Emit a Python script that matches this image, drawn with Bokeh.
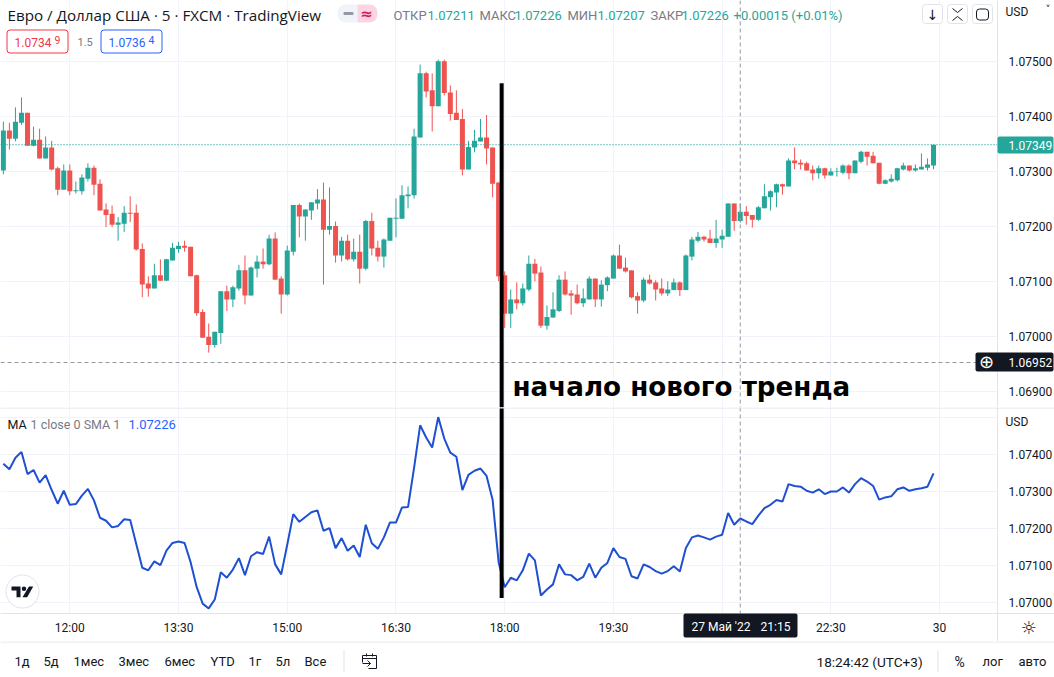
from bokeh.plotting import figure
from bokeh.layouts import column
from bokeh.models import Range1d, FixedTicker, Span, Label, BoxAnnotation, ColumnDataSource
from bokeh.embed import file_html
from bokeh.resources import INLINE

opens = [1.07302,1.07375,1.07360,1.07389,1.07407,1.07347,1.07358,1.07324,1.07344,1.07306,
1.07267,1.07302,1.07264,1.07264,1.07287,1.07307,1.07278,1.07231,1.07223,1.07203,
1.07205,1.07225,1.07225,1.07159,1.07096,1.07087,1.07111,1.07101,1.07138,1.07159,
1.07165,1.07163,1.07111,1.07044,1.06999,1.06984,1.07006,1.07082,1.07067,1.07087,
1.07120,1.07074,1.07123,1.07136,1.07131,1.07178,1.07105,1.07076,1.07154,1.07239,
1.07218,1.07229,1.07242,1.07249,1.07194,1.07201,1.07147,1.07174,1.07140,1.07154,
1.07123,1.07210,1.07161,1.07145,1.07174,1.07214,1.07214,1.07255,1.07257,1.07362,
1.07479,1.07448,1.07419,1.07501,1.07444,1.07407,1.07396,1.07304,1.07344,1.07355,
1.07362,1.07344,1.07280,1.07111,1.07041,1.07067,1.07060,1.07085,1.07132,1.07116,
1.07019,1.07034,1.07046,1.07103,1.07078,1.07076,1.07060,1.07067,1.07105,1.07067,
1.07093,1.07105,1.07147,1.07125,1.07120,1.07073,1.07065,1.07103,1.07098,1.07087,
1.07078,1.07084,1.07098,1.07084,1.07145,1.07174,1.07181,1.07178,1.07170,1.07176,
1.07181,1.07242,1.07210,1.07227,1.07221,1.07212,1.07233,1.07253,1.07262,1.07277,
1.07273,1.07320,1.07316,1.07315,1.07304,1.07297,1.07306,1.07293,1.07299,1.07298,
1.07311,1.07297,1.07318,1.07336,1.07329,1.07316,1.07278,1.07282,1.07284,1.07304,
1.07311,1.07302,1.07304,1.07307,1.07311]

highs = [1.07391,1.07389,1.07417,1.07435,1.07407,1.07382,1.07378,1.07364,1.07356,1.07309,
1.07313,1.07313,1.07282,1.07295,1.07315,1.07311,1.07286,1.07242,1.07238,1.07217,
1.07237,1.07255,1.07240,1.07169,1.07109,1.07132,1.07140,1.07141,1.07170,1.07172,
1.07174,1.07163,1.07112,1.07049,1.07023,1.07008,1.07082,1.07092,1.07092,1.07130,
1.07147,1.07127,1.07147,1.07160,1.07185,1.07189,1.07109,1.07165,1.07239,1.07242,
1.07231,1.07244,1.07268,1.07280,1.07271,1.07209,1.07181,1.07185,1.07178,1.07185,
1.07212,1.07225,1.07174,1.07178,1.07216,1.07251,1.07275,1.07273,1.07378,1.07495,
1.07482,1.07479,1.07504,1.07504,1.07457,1.07448,1.07414,1.07356,1.07376,1.07396,
1.07403,1.07344,1.07280,1.07118,1.07085,1.07098,1.07096,1.07147,1.07141,1.07127,
1.07056,1.07080,1.07111,1.07118,1.07084,1.07094,1.07087,1.07109,1.07105,1.07102,
1.07109,1.07149,1.07167,1.07143,1.07120,1.07080,1.07107,1.07112,1.07102,1.07105,
1.07100,1.07105,1.07100,1.07149,1.07181,1.07190,1.07183,1.07194,1.07212,1.07194,
1.07242,1.07242,1.07242,1.07237,1.07221,1.07237,1.07277,1.07266,1.07278,1.07278,
1.07324,1.07344,1.07322,1.07318,1.07311,1.07311,1.07307,1.07306,1.07307,1.07313,
1.07313,1.07320,1.07338,1.07336,1.07336,1.07316,1.07286,1.07295,1.07307,1.07316,
1.07311,1.07313,1.07333,1.07324,1.07349]

lows = [1.07295,1.07340,1.07355,1.07385,1.07347,1.07346,1.07324,1.07324,1.07302,1.07257,
1.07267,1.07257,1.07260,1.07258,1.07282,1.07257,1.07229,1.07199,1.07199,1.07174,
1.07190,1.07208,1.07156,1.07071,1.07072,1.07087,1.07101,1.07101,1.07138,1.07152,
1.07154,1.07109,1.07037,1.06997,1.06970,1.06979,1.06986,1.07046,1.07053,1.07083,
1.07058,1.07074,1.07107,1.07123,1.07129,1.07103,1.07041,1.07074,1.07147,1.07180,
1.07174,1.07212,1.07231,1.07094,1.07185,1.07134,1.07136,1.07138,1.07136,1.07096,
1.07120,1.07147,1.07136,1.07125,1.07174,1.07180,1.07214,1.07233,1.07251,1.07362,
1.07435,1.07373,1.07419,1.07439,1.07393,1.07394,1.07293,1.07304,1.07335,1.07355,
1.07313,1.07253,1.07100,1.07015,1.07015,1.07049,1.07056,1.07082,1.07100,1.07015,
1.07012,1.07034,1.07044,1.07074,1.07039,1.07058,1.07053,1.07067,1.07053,1.07054,
1.07082,1.07105,1.07123,1.07116,1.07069,1.07041,1.07062,1.07094,1.07065,1.07074,
1.07073,1.07084,1.07073,1.07084,1.07138,1.07171,1.07172,1.07170,1.07161,1.07161,
1.07181,1.07192,1.07207,1.07203,1.07198,1.07210,1.07233,1.07229,1.07235,1.07258,
1.07273,1.07304,1.07304,1.07302,1.07284,1.07287,1.07287,1.07293,1.07291,1.07295,
1.07286,1.07297,1.07315,1.07311,1.07315,1.07277,1.07277,1.07280,1.07282,1.07302,
1.07300,1.07300,1.07304,1.07302,1.07304]

closes = [1.07375,1.07360,1.07391,1.07407,1.07347,1.07358,1.07324,1.07344,1.07304,1.07267,
1.07302,1.07264,1.07266,1.07289,1.07307,1.07276,1.07229,1.07221,1.07203,1.07207,
1.07225,1.07223,1.07158,1.07094,1.07087,1.07111,1.07101,1.07140,1.07161,1.07165,
1.07161,1.07109,1.07042,1.06997,1.06984,1.07008,1.07082,1.07067,1.07089,1.07120,
1.07074,1.07125,1.07136,1.07131,1.07178,1.07103,1.07076,1.07156,1.07239,1.07218,
1.07231,1.07244,1.07249,1.07194,1.07201,1.07147,1.07174,1.07140,1.07154,1.07123,
1.07210,1.07160,1.07145,1.07176,1.07216,1.07216,1.07257,1.07258,1.07364,1.07479,
1.07446,1.07419,1.07501,1.07443,1.07405,1.07394,1.07304,1.07345,1.07356,1.07362,
1.07342,1.07278,1.07109,1.07041,1.07067,1.07060,1.07087,1.07132,1.07114,1.07019,
1.07035,1.07049,1.07103,1.07076,1.07074,1.07060,1.07069,1.07105,1.07067,1.07094,
1.07107,1.07147,1.07123,1.07118,1.07071,1.07065,1.07103,1.07096,1.07085,1.07078,
1.07085,1.07098,1.07084,1.07147,1.07176,1.07181,1.07176,1.07170,1.07178,1.07183,
1.07242,1.07210,1.07227,1.07219,1.07212,1.07235,1.07255,1.07264,1.07277,1.07273,
1.07320,1.07315,1.07313,1.07302,1.07297,1.07306,1.07293,1.07300,1.07300,1.07311,
1.07297,1.07320,1.07336,1.07327,1.07315,1.07278,1.07284,1.07287,1.07306,1.07311,
1.07302,1.07306,1.07309,1.07313,1.07349]

first_bar = -11
price_ticks = [1.075, 1.074, 1.073, 1.072, 1.071, 1.07, 1.069]
ma_ticks = [1.074, 1.073, 1.072, 1.071, 1.07]
ma_grid = [1.075, 1.074, 1.073, 1.072, 1.071, 1.07]
time_grid = [0, 18, 36, 54, 72, 90, 108, 126, 144]
time_ticks = [0, 18, 36, 54, 72, 90, 126, 144]
time_labels = ["12:00", "13:30", "15:00", "16:30", "18:00", "19:30", "22:30", "30"]
range_buttons = ["1д", "5д", "1мес", "3мес", "6мес", "YTD", "1г", "5л", "Все"]
last_price = 1.07349
cursor_price = 1.06952
cursor_bar = 111
trend_bar = 71.5
trend_top = 1.07461
trend_bottom = 1.07012

UP, DOWN = "#26a69a", "#ef5350"
GRID, EDGE, INK, GREY = "#f0f3fa", "#e0e3eb", "#131722", "#787b86"
FONT = "Roboto"

# page pixel -> data helpers for the chart furniture
fx = lambda px: (px - 69.3) / 6.04
fy1 = lambda py: 1.075 - (py - 61.33) / 54870
fy2 = lambda py: 1.074 - (py - 454.0) / 37000
fy3 = lambda py: py

x_range = Range1d(fx(0), fx(1054))


def base(h, y_range):
    p = figure(width=1054, height=h, x_range=x_range, y_range=y_range,
               y_axis_location="right", output_backend="svg", toolbar_location=None,
               min_border=0,
               background_fill_color="white", border_fill_color="white", outline_line_color=None)
    p.xgrid.ticker = FixedTicker(ticks=time_grid)
    p.xgrid.grid_line_color = GRID
    p.ygrid.grid_line_color = GRID
    ax = p.yaxis[0]
    ax.fixed_location = fx(997)
    ax.axis_line_color = EDGE
    ax.major_tick_line_color = None
    ax.minor_tick_line_color = None
    ax.major_tick_out = 0
    ax.major_tick_in = 0
    ax.minor_tick_out = 0
    ax.major_label_text_font = FONT
    ax.major_label_text_font_size = "12px"
    ax.major_label_text_color = INK
    ax.major_label_standoff = 11
    return p


def put(p, fy, px, py, text, color=INK, size=13, align="left", style="normal", font=FONT):
    p.add_layout(Label(x=fx(px), y=fy(py), text=text, text_color=color, text_font=font,
                       text_font_size=f"{size}px", text_align=align, text_baseline="middle",
                       text_font_style=style))


def box(p, fy, l, r, t, b, fill=None, line=None, radius=0, level="annotation"):
    p.add_layout(BoxAnnotation(left=fx(l), right=fx(r), top=fy(t), bottom=fy(b),
                               fill_color=fill, fill_alpha=1 if fill else 0,
                               line_color=line, line_alpha=1 if line else 0, line_width=1,
                               border_radius=radius, level=level))


# ---------- candle pane ----------
p1 = base(407, Range1d(fy1(407), fy1(0)))
p1.xaxis.visible = False
p1.ygrid.ticker = FixedTicker(ticks=price_ticks)
p1.yaxis[0].ticker = FixedTicker(ticks=price_ticks)
p1.yaxis[0].major_label_overrides = {t: f"{t:.5f}" for t in price_ticks}
box(p1, fy1, 997, 1054, 0, 407, fill="white", level="glyph")

bars = [first_bar + i for i in range(len(closes))]
src = ColumnDataSource(dict(
    x=bars, o=opens, h=highs, l=lows, c=closes,
    color=[UP if c >= o else DOWN for o, c in zip(opens, closes)],
    top=[max(o, c) for o, c in zip(opens, closes)],
    bot=[min(o, c) for o, c in zip(opens, closes)]))
p1.segment("x", "h", "x", "l", color="color", line_width=1, source=src)
p1.vbar("x", 0.83, "top", "bot", fill_color="color", line_color=None, source=src)

p1.segment([fx(0)], [last_price], [fx(997)], [last_price], line_color=UP, line_dash="1 2", line_width=1.3)
p1.segment([fx(0)], [cursor_price], [fx(997)], [cursor_price], line_color="#9598a1", line_dash="4 3", line_width=1)
p1.add_layout(Span(location=cursor_bar, dimension="height", line_color="#9598a1", line_dash="4 3", line_width=1))
p1.segment([trend_bar], [trend_top], [trend_bar], [fy1(407)], color="black", line_width=4)

put(p1, fy1, 512, 386, "начало нового тренда", "black", 26.2, style="bold", font="DejaVu Sans")

# header
put(p1, fy1, 7, 14, "Евро / Доллар США · 5 · FXCM · TradingView", INK, 15.2, font="Open Sans")
box(p1, fy1, 337, 357, 4, 22, fill=GRID, radius=(8, 0, 0, 8))
box(p1, fy1, 357, 377, 4, 22, fill="#fbd5e2", radius=(0, 8, 8, 0))
box(p1, fy1, 343, 353, 11.5, 14.5, fill="#9598a1", radius=1)
put(p1, fy1, 366, 13, "≈", "#d81b60", 15, "center", "bold", "DejaVu Sans")
for px, txt, col in [(393, "ОТКР", GREY), (427, "1.07211", UP), (479, "МАКС", GREY), (514, "1.07226", UP),
                     (567, "МИН", GREY), (597, "1.07207", UP), (650, "ЗАКР", GREY), (681, "1.07226", UP),
                     (733, "+0.00015 (+0.01%)", UP)]:
    put(p1, fy1, px, 15, txt, col, 13)

box(p1, fy1, 6.5, 67.5, 29.5, 52.5, line="#f23645", radius=3)
put(p1, fy1, 14, 42, "1.0734", "#f23645", 12)
put(p1, fy1, 54, 39.5, "9", "#f23645", 10.5)
put(p1, fy1, 77, 41, "1.5", GREY, 11)
box(p1, fy1, 100.5, 161.5, 29.5, 52.5, line="#2962ff", radius=3)
put(p1, fy1, 108, 42, "1.0736", "#2962ff", 12)
put(p1, fy1, 148, 39.5, "4", "#2962ff", 10.5)

# top-right buttons
for l in (922, 947, 972):
    box(p1, fy1, l, l + 20, 4, 23, fill="white", line=EDGE, radius=3)
put(p1, fy1, 932, 14, "↓", INK, 14, "center", font="DejaVu Sans")
p1.multi_line([[fx(952), fx(957), fx(962)], [fx(952), fx(957), fx(962)]],
              [[fy1(8), fy1(12), fy1(8)], [fy1(20), fy1(16), fy1(20)]], line_color=INK, line_width=1, level="overlay")
box(p1, fy1, 976, 988, 8.5, 19.5, line=INK, radius=3)
put(p1, fy1, 1005, 11, "USD", INK, 12)
put(p1, fy1, 1045, 9, "˅", INK, 10, font="DejaVu Sans")

# right-hand price tags
box(p1, fy1, 997, 1053, 136, 153, fill=UP, radius=2)
put(p1, fy1, 1008, 145, "1.07349", "white", 12)
box(p1, fy1, 975, 1053, 352, 371, fill=INK, radius=2)
put(p1, fy1, 1008, 362, "1.06952", "white", 12)
put(p1, fy1, 986, 361, "⊕", "white", 18, "center", font="DejaVu Sans")

# ---------- moving-average pane ----------
p2 = base(234, Range1d(fy2(641), fy2(407)))
p2.ygrid.ticker = FixedTicker(ticks=ma_grid)
p2.yaxis[0].ticker = FixedTicker(ticks=ma_ticks)
p2.yaxis[0].major_label_overrides = {t: f"{t:.5f}" for t in ma_ticks}
box(p2, fy2, 997, 1054, 407, 641, fill="white", level="glyph")
box(p2, fy2, 0, 1054, 613, 641, fill="white", level="glyph")
tx = p2.xaxis[0]
tx.fixed_location = fy2(613)
tx.ticker = FixedTicker(ticks=time_ticks)
tx.major_label_overrides = dict(zip(time_ticks, time_labels))
tx.axis_line_color = EDGE
tx.major_tick_line_color = None
tx.minor_tick_line_color = None
tx.major_tick_out = 0
tx.major_tick_in = 0
tx.minor_tick_out = 0
tx.major_label_text_font = FONT
tx.major_label_text_font_size = "12px"
tx.major_label_text_color = INK
tx.major_label_standoff = 7

p2.line(bars, closes, line_color="#1f50d2", line_width=2)
p2.segment([cursor_bar], [fy2(407)], [cursor_bar], [fy2(613)], line_color="#9598a1", line_dash="4 3", line_width=1)
p2.segment([trend_bar], [fy2(407)], [trend_bar], [trend_bottom], color="black", line_width=4)

box(p2, fy2, 0, 1054, 407, 408, fill=EDGE)

put(p2, fy2, 7, 424, "MA", INK, 12.5)
put(p2, fy2, 30, 424, "1 close 0 SMA 1", GREY, 12.5)
put(p2, fy2, 128, 424, "1.07226", "#2962ff", 13)
put(p2, fy2, 1005, 421, "USD", INK, 12)

# logo
p2.scatter([fx(22)], [fy2(591)], size=33, fill_color="white", line_color=EDGE, line_width=1)
p2.patches([[fx(11), fx(20), fx(20), fx(16), fx(16), fx(11)],
            [fx(28.5), fx(32.7), fx(26.7), fx(22)]],
           [[fy2(586), fy2(586), fy2(596.7), fy2(596.7), fy2(590), fy2(590)],
            [fy2(586), fy2(586), fy2(596.7), fy2(596.7)]], fill_color=INK, line_color=None)
p2.scatter([fx(23.5)], [fy2(588.2)], size=4.5, fill_color=INK, line_color=None)

# cursor time tag and settings icon
box(p2, fy2, 683, 797, 613, 637, fill=INK, radius=2)
put(p2, fy2, 691, 626, "27 Май '22", "white", 12)
put(p2, fy2, 760, 626, "21:15", "white", 12)
put(p2, fy2, 1028, 627, "☼", INK, 18, "center", font="DejaVu Sans")

# ---------- bottom bar ----------
p3 = figure(width=1054, height=36, x_range=x_range, y_range=Range1d(677, 641),
            output_backend="svg", toolbar_location=None, min_border=0,
            background_fill_color="white", border_fill_color="white", outline_line_color=None)
p3.axis.visible = False
p3.grid.visible = False
box(p3, fy3, 0, 1054, 641, 642, fill=EDGE)
for px, txt in zip([14, 43, 73, 118, 164, 210, 248, 275, 304], range_buttons):
    put(p3, fy3, px, 661, txt, INK, 13)
for px, txt, sz in [(816, "18:24:42 (UTC+3)", 13.6), (954, "%", 14), (982, "лог", 13), (1018, "авто", 13)]:
    put(p3, fy3, px, 661, txt, INK, sz)
box(p3, fy3, 343, 344, 650, 672, fill=EDGE)
box(p3, fy3, 937, 938, 650, 672, fill=EDGE)
p3.multi_line([[fx(v) for v in [362, 362, 376, 376, 368]], [fx(362), fx(376)], [fx(366), fx(366)], [fx(372), fx(372)],
               [fx(362), fx(370)], [fx(367), fx(370), fx(367)]],
              [[662, 655, 655, 668, 668], [658, 658], [653, 656], [653, 656], [663, 663], [660, 663, 666]],
              line_color=INK, line_width=1)

page = column(p1, p2, p3, spacing=0)
open("out.html", "w").write(file_html(page, INLINE))
